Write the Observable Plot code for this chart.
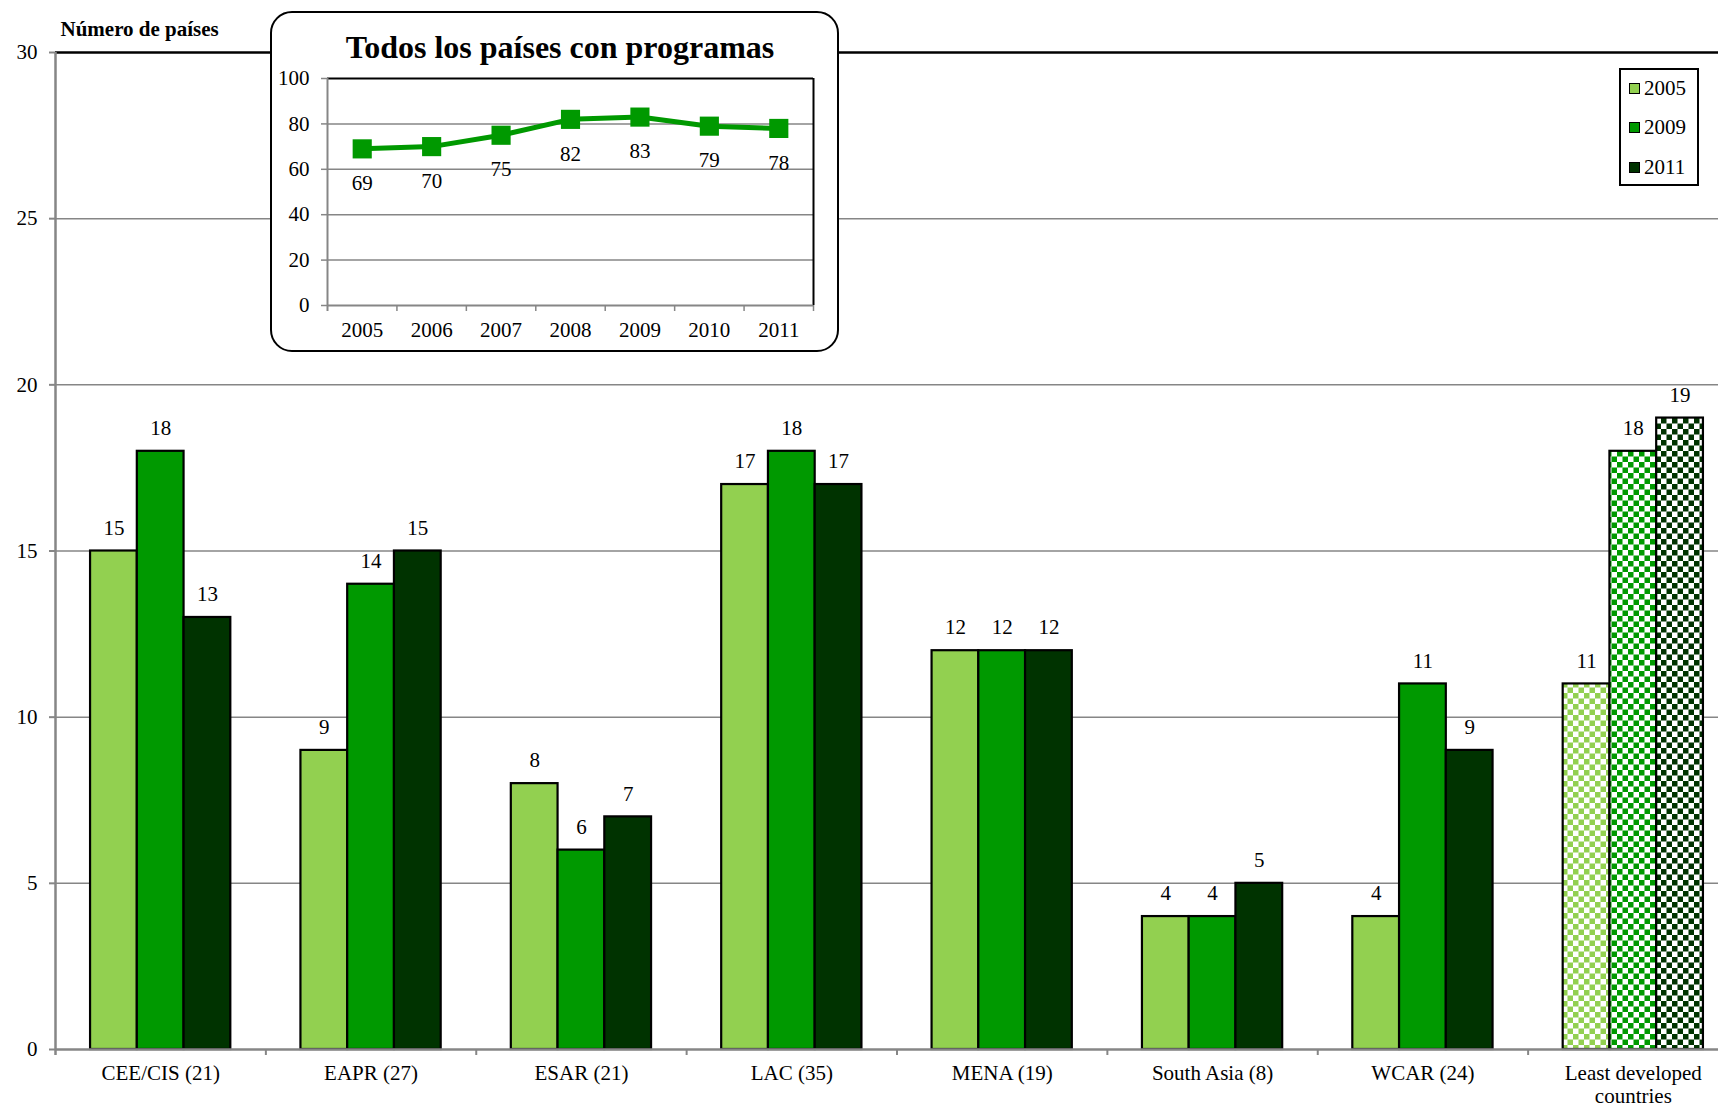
<!DOCTYPE html>
<html><head><meta charset="utf-8">
<script src="https://cdn.jsdelivr.net/npm/d3@7"></script>
<script src="https://cdn.jsdelivr.net/npm/@observablehq/plot@0.6"></script>
<style>
html,body{margin:0;padding:0;background:#fff;overflow:hidden}
#wrap{position:relative;width:1718px;height:1108px;font-family:"Liberation Serif","Times New Roman",serif;color:#000}
#main{position:absolute;left:0;top:0}
#insetBox{position:absolute;left:270px;top:11px;width:569px;height:341px;box-sizing:border-box;border:2.5px solid #000;border-radius:22px;background:#fff}
#insetPlot{position:absolute;left:272px;top:60px}
#insetTitle{position:absolute;left:281px;width:558px;top:31px;line-height:32px;font-size:32px;font-weight:bold;text-align:center;white-space:nowrap}
#legend{position:absolute;left:1619px;top:68px;width:80px;height:118px;box-sizing:border-box;border:2px solid #000;background:#fff}
.lg{position:absolute;left:8px;height:21px;display:flex;align-items:center;font-size:21px;line-height:21px}
.sw{width:11px;height:11px;box-sizing:border-box;border:1.5px solid #000;margin-right:4px}
</style>
</head><body>
<div id="wrap">
  <div id="main"></div>
  <div id="insetBox"></div>
  <div id="insetPlot"></div>
  <div id="insetTitle"></div>
  <div id="legend"></div>
</div>
<script>
// ---- data ----
const groups = ["CEE/CIS (21)", "EAPR (27)", "ESAR (21)", "LAC (35)", "MENA (19)", "South Asia (8)", "WCAR (24)", "Least developed countries"];
const groupLabels = ["CEE/CIS (21)", "EAPR (27)", "ESAR (21)", "LAC (35)", "MENA (19)", "South Asia (8)", "WCAR (24)", "Least developed\ncountries"];
const years = ["2005", "2009", "2011"];
const colors = ["#92D050", "#009900", "#003300"];
const values2005 = [15, 9, 8, 17, 12, 4, 4, 11];
const values2009 = [18, 14, 6, 18, 12, 4, 11, 18];
const values2011 = [13, 15, 7, 17, 12, 5, 9, 19];
const yTicks = [0, 5, 10, 15, 20, 25, 30];
const patternGroup = "Least developed countries";
const yTitle = "Número de países";

const insetTitleText = "Todos los países con programas";
const insetYears = ["2005", "2006", "2007", "2008", "2009", "2010", "2011"];
const insetValues = [69, 70, 75, 82, 83, 79, 78];
const insetTicks = [0, 20, 40, 60, 80, 100];

// ---- layout ----
const series = [values2005, values2009, values2011];
const W = 1718, H = 1108, mL = 55, mT = 52, mB = 59, xEnd = 1738;
const bw = (xEnd - mL) / groups.length, barW = bw / 4.5;
const grid = "#868686";
const font = {fontFamily: "'Liberation Serif','Times New Roman',serif", fontSize: "21px", background: "transparent", color: "#000"};

const rows = series.map((vals, k) => groups.map((g, i) => ({
  group: g, value: vals[i],
  fill: g === patternGroup ? `url(#chk${years[k]})` : colors[k]
})));

const main = Plot.plot({
  width: W, height: H,
  marginLeft: mL, marginRight: 0, marginTop: mT, marginBottom: mB,
  x: {domain: groups, range: [mL, xEnd], padding: 0, round: false, axis: null},
  y: {domain: [0, 30], axis: null},
  color: {type: "identity"},
  style: font,
  marks: [
    Plot.ruleY(yTicks.filter(t => t > 0 && t < 30), {stroke: grid, strokeWidth: 1.5}),
    Plot.ruleY([30], {stroke: "#000", strokeWidth: 2.5}),
    ...rows.map((r, k) => Plot.barY(r, {
      x: "group", y: "value", fill: "fill", stroke: "#000", strokeWidth: 2.2,
      insetLeft: (0.75 + k) * barW, insetRight: (2.75 - k) * barW
    })),
    Plot.ruleY([0], {stroke: grid, strokeWidth: 2.5}),
    Plot.ruleX([groups[0]], {dx: -bw / 2, stroke: grid, strokeWidth: 2.5, insetBottom: -6}),
    Plot.ruleX(groups.slice(1), {dx: -bw / 2, stroke: grid, strokeWidth: 2, insetTop: H - mT - mB, insetBottom: -6}),
    Plot.tickY(yTicks, {x: () => groups[0], y: d => d, insetLeft: -6, insetRight: bw, stroke: grid, strokeWidth: 2}),
    Plot.text(yTicks, {y: d => d, text: d => String(d), frameAnchor: "left", lineAnchor: "middle", dx: -18, textAnchor: "end", fill: "#000"}),
    Plot.text(groupLabels, {x: (d, i) => groups[i], text: d => d, frameAnchor: "bottom", dy: 13, lineAnchor: "top", lineHeight: 1.14, fill: "#000"}),
    ...rows.map((r, k) => Plot.text(r, {x: "group", y: "value", text: d => String(d.value), dx: (k - 1) * barW, dy: -23, lineAnchor: "middle", fill: "#000"})),
    Plot.text([yTitle], {text: d => d, frameAnchor: "top-left", dx: 5, dy: -23, textAnchor: "start", lineAnchor: "middle", fontWeight: "bold", fontSize: 21, fill: "#000"})
  ]
});

const defs = d3.select(main).insert("defs", ":first-child");
years.forEach((yr, k) => {
  const p = defs.append("pattern").attr("id", `chk${yr}`).attr("patternUnits", "userSpaceOnUse").attr("width", 11).attr("height", 11);
  p.append("rect").attr("width", 11).attr("height", 11).attr("fill", "#fff");
  p.append("rect").attr("width", 5.5).attr("height", 5.5).attr("fill", colors[k]);
  p.append("rect").attr("x", 5.5).attr("y", 5.5).attr("width", 5.5).attr("height", 5.5).attr("fill", colors[k]);
});
document.getElementById("main").appendChild(main);

// ---- inset ----
const iW = 560, iH = 288, imL = 55, imR = 19, imT = 18, imB = 43;
const ibw = (iW - imL - imR) / insetYears.length;
const insetRows = insetYears.map((yr, i) => ({year: yr, value: insetValues[i]}));
const inset = Plot.plot({
  width: iW, height: iH,
  marginLeft: imL, marginRight: imR, marginTop: imT, marginBottom: imB,
  x: {domain: insetYears, padding: 0, round: false, axis: null},
  y: {domain: [0, 100], axis: null},
  style: font,
  marks: [
    Plot.ruleY(insetTicks.filter(t => t > 0 && t < 100), {stroke: grid, strokeWidth: 1.5}),
    Plot.ruleY([100], {stroke: "#000", strokeWidth: 2}),
    Plot.ruleX([insetYears[insetYears.length - 1]], {dx: ibw / 2, stroke: "#000", strokeWidth: 2}),
    Plot.ruleY([0], {stroke: grid, strokeWidth: 2}),
    Plot.ruleX([insetYears[0]], {dx: -ibw / 2, stroke: grid, strokeWidth: 2, insetBottom: -6}),
    Plot.ruleX(insetYears, {dx: ibw / 2, stroke: grid, strokeWidth: 1.5, insetTop: iH - imT - imB, insetBottom: -6}),
    Plot.tickY(insetTicks, {x: () => insetYears[0], y: d => d, insetLeft: -6, insetRight: ibw, stroke: grid, strokeWidth: 1.5}),
    Plot.text(insetTicks, {y: d => d, text: d => String(d), frameAnchor: "left", lineAnchor: "middle", dx: -18, textAnchor: "end", fill: "#000"}),
    Plot.text(insetYears, {x: d => d, text: d => d, frameAnchor: "bottom", lineAnchor: "middle", dy: 25, fill: "#000"}),
    Plot.line(insetRows, {x: "year", y: "value", stroke: "#009900", strokeWidth: 5}),
    Plot.dot(insetRows, {x: "year", y: "value", symbol: "square", r: 10.8, fill: "#009900"}),
    Plot.text(insetRows, {x: "year", y: "value", text: d => String(d.value), dy: 34.5, lineAnchor: "middle", fill: "#000"})
  ]
});
document.getElementById("insetPlot").appendChild(inset);
document.getElementById("insetTitle").textContent = insetTitleText;

// ---- legend ----
const legend = document.getElementById("legend");
const legendCenters = [88, 127, 167];
years.forEach((yr, k) => {
  const row = document.createElement("div");
  row.className = "lg";
  row.style.top = (legendCenters[k] - 10.5 - 70) + "px";
  const sw = document.createElement("div");
  sw.className = "sw";
  sw.style.background = colors[k];
  const t = document.createElement("span");
  t.textContent = yr;
  row.appendChild(sw); row.appendChild(t);
  legend.appendChild(row);
});
</script>
</body></html>
